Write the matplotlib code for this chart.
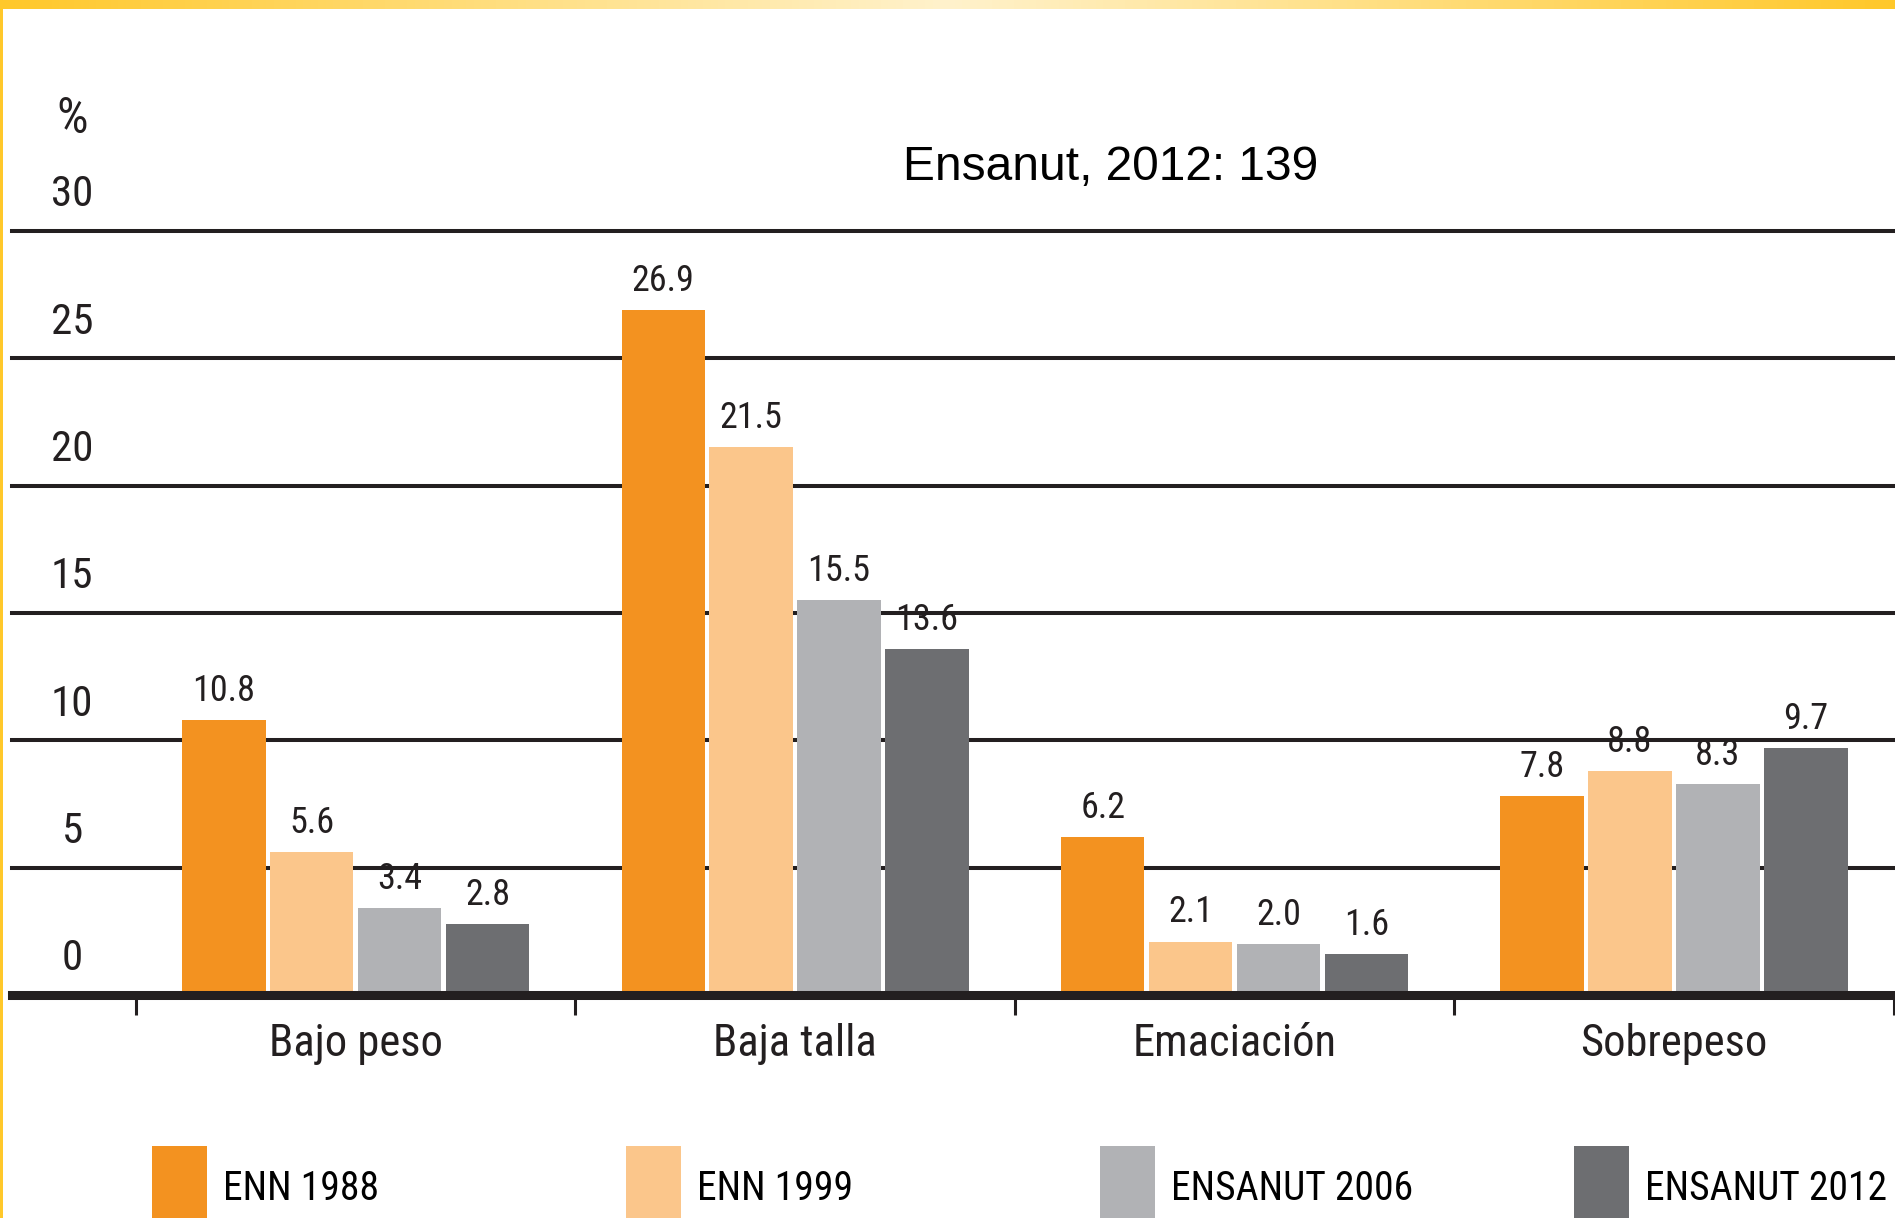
"""Estado de nutricion en menores de cinco anos, 1988-2012"""

import matplotlib

matplotlib.use("Agg")
import matplotlib.pyplot as plt
import numpy as np
from matplotlib.colors import LinearSegmentedColormap
from matplotlib.patches import Rectangle

# data
categories = ["Bajo peso", "Baja talla", "Emaciación", "Sobrepeso"]
series = ["ENN 1988", "ENN 1999", "ENSANUT 2006", "ENSANUT 2012"]
enn_1988 = [10.8, 26.9, 6.2, 7.8]
enn_1999 = [5.6, 21.5, 2.1, 8.8]
ensanut_2006 = [3.4, 15.5, 2.0, 8.3]
ensanut_2012 = [2.8, 13.6, 1.6, 9.7]
y_ticks = [0, 5, 10, 15, 20, 25, 30]
title = "Ensanut, 2012: 139"

colors = ["#F39220", "#FBC68B", "#B1B2B5", "#6D6E71"]
ink = "#231F20"
gold = "#FFC82A"
narrow = ["Roboto Condensed", "Open Sans Condensed", "DejaVu Sans"]
stretch = "condensed"

W, H = 1895, 1218
fig = plt.figure(figsize=(W / 100, H / 100), dpi=100)
fig.patch.set_facecolor("white")

ax = fig.add_axes([12 / W, 223 / H, 1 - 12 / W, 764 / H])
ax.set_xlim(-0.782, 3.503)
ax.set_ylim(0, 30)
for s in ax.spines.values():
    s.set_visible(False)

# horizontal rules
for v in y_ticks[1:]:
    ax.axhline(v, color=ink, lw=2.9, zorder=1, clip_on=False)
ax.axhline(0, color=ink, lw=6.5, zorder=5, clip_on=False)

# bars
x = np.arange(len(categories))
width = 0.19
for j, (name, vals) in enumerate(
    zip(series, [enn_1988, enn_1999, ensanut_2006, ensanut_2012])
):
    bars = ax.bar(
        x + (j - 1.5) * 0.2,
        vals,
        width,
        color=colors[j],
        label=name,
        zorder=3,
    )
    ax.bar_label(
        bars,
        fmt="%.1f",
        padding=8,
        fontsize=26,
        family=narrow,
        fontstretch=stretch,
        color=ink,
    )

# x axis: category names centered, tick marks at group boundaries
ax.set_xticks(x)
ax.set_xticklabels(categories, family=narrow, fontstretch=stretch,
                   fontsize=32, color=ink)
ax.set_xticks(np.arange(len(categories) + 1) - 0.5, minor=True)
ax.tick_params(axis="x", which="major", length=0, pad=20)
ax.tick_params(axis="x", which="minor", length=14.5, width=2.2, color=ink)

# y axis labels sit above their rules
ax.set_yticks([])
ytr = ax.get_yaxis_transform()
for v in y_ticks:
    ax.text(0.0319, v + 1.42, str(v), transform=ytr, ha="center",
            va="center", fontsize=31, family=narrow, fontstretch=stretch,
            color=ink)
ax.text(0.0319, 34.4, "%", transform=ytr, ha="center", va="center",
        fontsize=36, family=narrow, fontstretch=stretch, color=ink)

fig.text(1111 / W, 1 - 180 / H, title, ha="center", va="baseline",
         fontsize=34.5, family=["Liberation Sans", "DejaVu Sans"],
         color="black")

# legend, one entry per fixed slot
handles, labels = ax.get_legend_handles_labels()
for i, (h, lab) in enumerate(zip(handles, labels)):
    fig.legend(
        handles=[h],
        labels=[lab],
        loc="lower left",
        bbox_to_anchor=((152 + 474 * i) / W, -12 / H),
        frameon=False,
        prop={"family": narrow, "stretch": stretch, "size": 28.5},
        handlelength=1.4,
        handleheight=2.9,
        handletextpad=0.4,
        borderpad=0,
        borderaxespad=0,
    )

# yellow frame: gradient strip at the top and thin line on the left
cmap = LinearSegmentedColormap.from_list(
    "frame", [gold, "#FFF2CC", gold]
)
top = fig.add_axes([0, 1 - 9 / H, 1, 9 / H])
top.imshow(np.linspace(0, 1, 256)[None, :], aspect="auto", cmap=cmap)
top.axis("off")
fig.add_artist(Rectangle((0, 0), 3 / W, 1, transform=fig.transFigure,
                         color=gold, lw=0))

fig.savefig("out.png", dpi=100)
